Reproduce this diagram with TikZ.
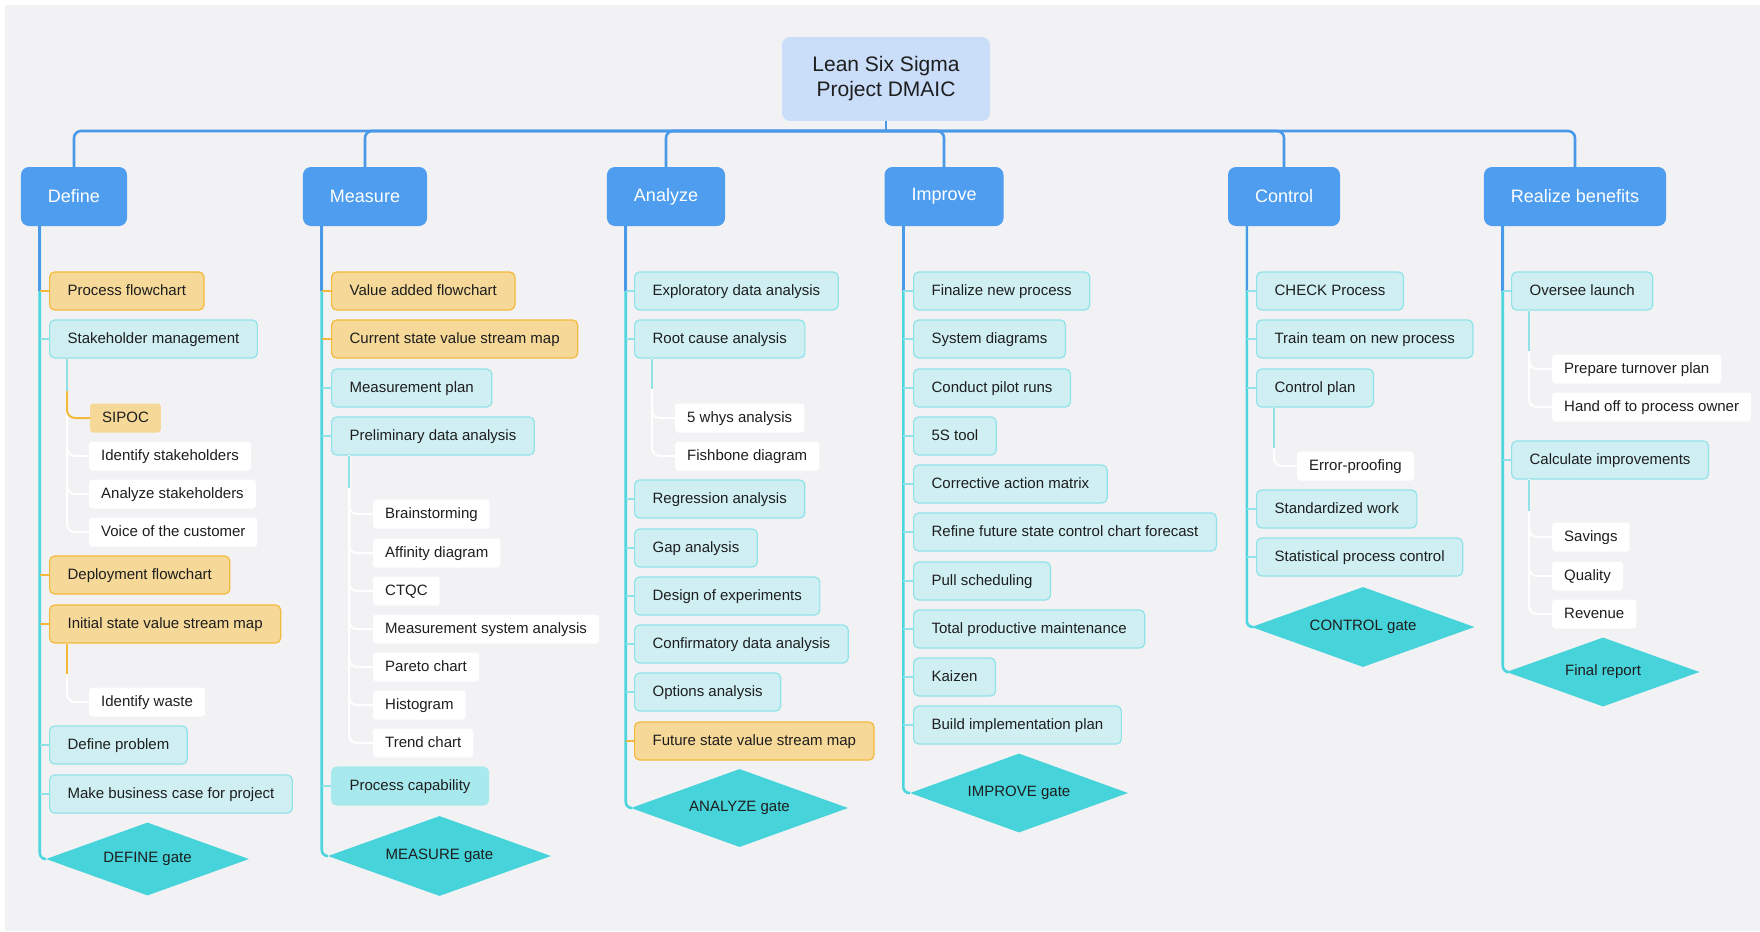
\documentclass[tikz,border=0pt]{standalone}
\usepackage{fontspec}
\setmainfont{Liberation Sans}
\usetikzlibrary{shapes.geometric}
\definecolor{bg}{HTML}{F2F2F5}
\definecolor{ink}{HTML}{1E1E1E}
\definecolor{titlefill}{HTML}{CADEFA}
\definecolor{phaseblue}{HTML}{4E9DEF}
\definecolor{busblue}{HTML}{4A98E8}
\definecolor{trunkcyan}{HTML}{4ED6DE}
\definecolor{cyanfill}{HTML}{CFEFF2}
\definecolor{cyanedge}{HTML}{8FE3E8}
\definecolor{capfill}{HTML}{A8E9EE}
\definecolor{orangefill}{HTML}{F6D898}
\definecolor{orangeedge}{HTML}{F3B93A}
\definecolor{gatefill}{HTML}{46D3DA}
\tikzset{
  title/.style={fill=titlefill, rounded corners=8pt, minimum width=208pt, minimum height=84pt,
    align=center, text=ink, font=\fontsize{21}{25}\selectfont},
  phase/.style={fill=phaseblue, rounded corners=8pt, text=white, minimum height=59pt,
    inner xsep=27pt, font=\fontsize{18}{22}\selectfont},
  item/.style={rounded corners=5pt, minimum height=38pt, inner xsep=18pt, anchor=west,
    text height=11pt, text depth=3pt, text=ink, line width=1.2pt, font=\fontsize{15}{18}\selectfont},
  cyanitem/.style={item, draw=cyanedge, fill=cyanfill},
  orangeitem/.style={item, draw=orangeedge, fill=orangefill},
  capitem/.style={item, draw=capfill, fill=capfill},
  subitem/.style={rounded corners=3pt, fill=white, minimum height=29pt, inner xsep=12pt, anchor=west,
    text height=11pt, text depth=3pt, text=ink, font=\fontsize{15}{18}\selectfont},
  suborange/.style={subitem, fill=orangefill},
  gate/.style={diamond, aspect=2.8, inner sep=0pt, fill=gatefill, text=ink, font=\fontsize{15}{18}\selectfont},
  bus/.style={draw=busblue, line width=2.6pt, rounded corners=7pt},
  trunk/.style={draw=trunkcyan, line width=2.6pt, rounded corners=6pt},
  tick/.style={line width=1.6pt},
  subline/.style={line width=2pt, rounded corners=8pt},
}
\begin{document}
\begin{tikzpicture}[x=1pt,y=-1pt]
\useasboundingbox (0,0) rectangle (1760,931);
\fill[white] (0,0) rectangle (1760,931);
\fill[bg] (5,5) rectangle (1760,931);

% root and phases
\node[title] (ttl) at (886,79) {Lean Six Sigma\\Project DMAIC};
\node[phase] (def) at (74,196.5) {Define};
\node[phase] (mea) at (365,196.5) {Measure};
\node[phase] (ana) at (666,196.5) {Analyze};
\node[phase] (imp) at (944,196.5) {Improve};
\node[phase] (con) at (1284,196.5) {Control};
\node[phase] (rb) at (1575,196.5) {Realize benefits};
\coordinate (bus) at (886,131);
\draw[bus] (ttl.south) -- (bus);
\draw[bus] (def.north) |- (bus) -| (rb.north);
\draw[bus] (bus) -| (mea.north);
\draw[bus] (bus) -| (ana.north);
\draw[bus] (bus) -| (imp.north);
\draw[bus] (bus) -| (con.north);

% Define
\node[orangeitem] (pf) at (49,291) {Process flowchart};
\node[cyanitem] (sm) at (49,339) {Stakeholder management};
\node[suborange] (sipoc) at (90,418) {SIPOC};
\node[subitem] (idst) at (89,456) {Identify stakeholders};
\node[subitem] (anst) at (89,494) {Analyze stakeholders};
\node[subitem] (voc) at (89,532) {Voice of the customer};
\node[orangeitem] (dfc) at (49,575) {Deployment flowchart};
\node[orangeitem] (isv) at (49,624) {Initial state value stream map};
\node[subitem] (iw) at (89,702) {Identify waste};
\node[cyanitem] (dpr) at (49,745) {Define problem};
\node[cyanitem] (mbc) at (49,794) {Make business case for project};
\node[gate, minimum width=203pt, minimum height=73pt] (dg) at (147.5,859) {DEFINE gate};

% Measure
\node[orangeitem] (vaf) at (331,291) {Value added flowchart};
\node[orangeitem] (csv) at (331,339) {Current state value stream map};
\node[cyanitem] (mpl) at (331,388) {Measurement plan};
\node[cyanitem] (pda) at (331,436) {Preliminary data analysis};
\node[subitem] (brs) at (373,514) {Brainstorming};
\node[subitem] (afd) at (373,553) {Affinity diagram};
\node[subitem] (ctq) at (373,591) {CTQC};
\node[subitem] (msa) at (373,629) {Measurement system analysis};
\node[subitem] (par) at (373,667) {Pareto chart};
\node[subitem] (his) at (373,705) {Histogram};
\node[subitem] (trc) at (373,743) {Trend chart};
\node[capitem] (pcap) at (331,786) {Process capability};
\node[gate, minimum width=223pt, minimum height=80pt] (mg) at (439.5,856) {MEASURE gate};

% Analyze
\node[cyanitem] (eda) at (634,291) {Exploratory data analysis};
\node[cyanitem] (rca) at (634,339) {Root cause analysis};
\node[subitem] (why) at (675,418) {5 whys analysis};
\node[subitem] (fish) at (675,456) {Fishbone diagram};
\node[cyanitem] (reg) at (634,499) {Regression analysis};
\node[cyanitem] (gap) at (634,548) {Gap analysis};
\node[cyanitem] (doe) at (634,596) {Design of experiments};
\node[cyanitem] (cda) at (634,644) {Confirmatory data analysis};
\node[cyanitem] (opt) at (634,692) {Options analysis};
\node[orangeitem] (fsv) at (634,741) {Future state value stream map};
\node[gate, minimum width=217pt, minimum height=78pt] (ag) at (739.5,808) {ANALYZE gate};

% Improve
\node[cyanitem] (fnp) at (913,291) {Finalize new process};
\node[cyanitem] (sdg) at (913,339) {System diagrams};
\node[cyanitem] (cpr) at (913,388) {Conduct pilot runs};
\node[cyanitem] (sst) at (913,436) {5S tool};
\node[cyanitem] (cam) at (913,484) {Corrective action matrix};
\node[cyanitem] (rfs) at (913,532) {Refine future state control chart forecast};
\node[cyanitem] (psc) at (913,581) {Pull scheduling};
\node[cyanitem] (tpm) at (913,629) {Total productive maintenance};
\node[cyanitem] (kai) at (913,677) {Kaizen};
\node[cyanitem] (bip) at (913,725) {Build implementation plan};
\node[gate, minimum width=218pt, minimum height=79pt] (ig) at (1019,793) {IMPROVE gate};

% Control
\node[cyanitem] (chk) at (1256,291) {CHECK Process};
\node[cyanitem] (ttm) at (1256,339) {Train team on new process};
\node[cyanitem] (cpl) at (1256,388) {Control plan};
\node[subitem] (err) at (1297,466) {Error-proofing};
\node[cyanitem] (stw) at (1256,509) {Standardized work};
\node[cyanitem] (spc) at (1256,557) {Statistical process control};
\node[gate, minimum width=223pt, minimum height=80pt] (cg) at (1363,627) {CONTROL gate};

% Realize benefits
\node[cyanitem] (osl) at (1511,291) {Oversee launch};
\node[subitem] (ptp) at (1552,369) {Prepare turnover plan};
\node[subitem] (hof) at (1552,407) {Hand off to process owner};
\node[cyanitem] (cim) at (1511,460) {Calculate improvements};
\node[subitem] (sav) at (1552,537) {Savings};
\node[subitem] (qua) at (1552,576) {Quality};
\node[subitem] (rev) at (1552,614) {Revenue};
\node[gate, minimum width=193pt, minimum height=69pt] (fr) at (1603,672) {Final report};

% trunks
\coordinate (dtr) at ([xshift=19pt]def.south west);
\coordinate (mtr) at ([xshift=19pt]mea.south west);
\coordinate (atr) at ([xshift=19pt]ana.south west);
\coordinate (itr) at ([xshift=19pt]imp.south west);
\coordinate (ctr) at ([xshift=19pt]con.south west);
\coordinate (rtr) at ([xshift=19pt]rb.south west);
\draw[trunk] (dtr) |- (dg.west);
\draw[trunk] (mtr) |- (mg.west);
\draw[trunk] (atr) |- (ag.west);
\draw[trunk] (itr) |- (ig.west);
\draw[trunk] (ctr) |- (cg.west);
\draw[trunk] (rtr) |- (fr.west);
\draw[trunk, draw=busblue] (dtr) -- (dtr |- pf.west);
\draw[trunk, draw=busblue] (mtr) -- (mtr |- vaf.west);
\draw[trunk, draw=busblue] (atr) -- (atr |- eda.west);
\draw[trunk, draw=busblue] (itr) -- (itr |- fnp.west);
\draw[trunk, draw=busblue] (ctr) -- (ctr |- chk.west);
\draw[trunk, draw=busblue] (rtr) -- (rtr |- osl.west);

% ticks to items
\foreach \n in {pf,dfc,isv} \draw[tick, orangeedge] (dtr |- \n.west) -- (\n.west);
\foreach \n in {sm,dpr,mbc} \draw[tick, cyanedge] (dtr |- \n.west) -- (\n.west);
\foreach \n in {vaf,csv} \draw[tick, orangeedge] (mtr |- \n.west) -- (\n.west);
\foreach \n in {mpl,pda,pcap} \draw[tick, cyanedge] (mtr |- \n.west) -- (\n.west);
\foreach \n in {eda,rca,reg,gap,doe,cda,opt} \draw[tick, cyanedge] (atr |- \n.west) -- (\n.west);
\draw[tick, orangeedge] (atr |- fsv.west) -- (fsv.west);
\foreach \n in {fnp,sdg,cpr,sst,cam,rfs,psc,tpm,kai,bip} \draw[tick, cyanedge] (itr |- \n.west) -- (\n.west);
\foreach \n in {chk,ttm,cpl,stw,spc} \draw[tick, cyanedge] (ctr |- \n.west) -- (\n.west);
\foreach \n in {osl,cim} \draw[tick, cyanedge] (rtr |- \n.west) -- (\n.west);

% sub branches
\foreach \n in {idst,anst,voc} \draw[subline, white] ([xshift=18pt]sm.south west) |- (\n.west);
\draw[subline, orangeedge] ([xshift=18pt]sm.south west) |- (sipoc.west);
\draw[subline, cyanedge] ([xshift=18pt]sm.south west) -- ++(0,32);
\draw[subline, white] ([xshift=18pt]isv.south west) |- (iw.west);
\draw[subline, orangeedge] ([xshift=18pt]isv.south west) -- ++(0,30);
\foreach \n in {brs,afd,ctq,msa,par,his,trc} \draw[subline, white] ([xshift=18pt]pda.south west) |- (\n.west);
\draw[subline, cyanedge] ([xshift=18pt]pda.south west) -- ++(0,32);
\foreach \n in {why,fish} \draw[subline, white] ([xshift=18pt]rca.south west) |- (\n.west);
\draw[subline, cyanedge] ([xshift=18pt]rca.south west) -- ++(0,30);
\draw[subline, white] ([xshift=18pt]cpl.south west) |- (err.west);
\draw[subline, cyanedge] ([xshift=18pt]cpl.south west) -- ++(0,40);
\foreach \n in {ptp,hof} \draw[subline, white] ([xshift=18pt]osl.south west) |- (\n.west);
\draw[subline, cyanedge] ([xshift=18pt]osl.south west) -- ++(0,40);
\foreach \n in {sav,qua,rev} \draw[subline, white] ([xshift=18pt]cim.south west) |- (\n.west);
\draw[subline, cyanedge] ([xshift=18pt]cim.south west) -- ++(0,31);
\end{tikzpicture}
\end{document}
